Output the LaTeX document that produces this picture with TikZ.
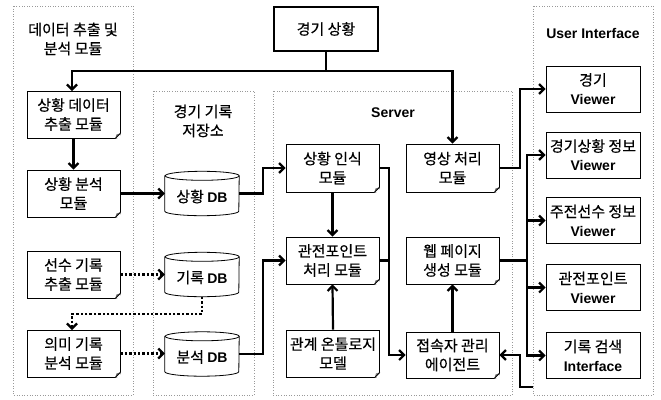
\documentclass[tikz,border=0pt]{standalone}
\usepackage{fontspec}
\setmainfont{Noto Sans CJK KR}[FakeBold=0.4]
\newfontfamily\lf{Liberation Sans}
\newcommand{\lb}[1]{{\lf\bfseries\fontsize{14}{19}\selectfont #1}}
\usetikzlibrary{arrows.meta,calc}
\tikzset{
  cont/.style={draw=gray!80, line width=0.6pt, dotted},
  boxn/.style={draw, line width=0.8pt, fill=white, align=center, minimum width=93pt, minimum height=47pt, inner sep=1pt, font=\fontsize{15}{19}\selectfont},
  dbn/.style={align=center, minimum width=74pt, minimum height=44pt, inner sep=1pt, font=\fontsize{15}{19}\selectfont},
  ttl/.style={align=center, font=\fontsize{15}{19}\selectfont},
  arr/.style={line width=2.2pt, -{Straight Barb[length=5pt,width=10pt,line width=2.2pt]}},
  ln/.style={line width=2.2pt},
  darr/.style={line width=2.4pt, dotted, -{Straight Barb[length=5pt,width=10pt,line width=2.2pt]}},
  dln/.style={line width=2.4pt, dotted},
}
\newcommand{\foldc}[1]{%
  \fill[white] ([xshift=-5pt]#1.south east) -- ([yshift=5pt]#1.south east) -- ([xshift=1pt,yshift=-1pt]#1.south east) -- cycle;
  \fill[gray] ([xshift=-5pt]#1.south east) -- ([yshift=5pt]#1.south east) -- ([xshift=-4pt,yshift=4pt]#1.south east) -- cycle;
  \draw[line width=0.8pt] ([xshift=-5pt]#1.south east) -- ([yshift=5pt]#1.south east);}
\newcommand{\cylc}[1]{%
  \draw[line width=0.8pt, fill=white] ([yshift=-4.5pt]#1.north west) -- ([yshift=4.5pt]#1.south west)
    arc[start angle=180,end angle=360,x radius=37pt,y radius=4.5pt]
    -- ([yshift=-4.5pt]#1.north east)
    arc[start angle=0,end angle=180,x radius=37pt,y radius=4.5pt] -- cycle;
  \draw[line width=0.8pt] ([yshift=-4.5pt]#1.north east) arc[start angle=0,end angle=-180,x radius=37pt,y radius=4.5pt];}
\begin{document}
\begin{tikzpicture}[x=1pt,y=-1pt]
\useasboundingbox (0,0) rectangle (661,399);
% containers
\draw[cont] (13,6) rectangle (133,395);
\draw[cont] (153,91) rectangle (254,395);
\draw[cont] (273,91) rectangle (512,395);
\draw[cont] (533,6) rectangle (653,395);
% container titles
\node[ttl] (t1) at (73,39) {데이터 추출 및\\분석 모듈};
\node[ttl] (t2) at (203,121) {경기 기록\\저장소};
\node[ttl] (t3) at (393,113) {\lb{Server}};
\node[ttl] (t4) at (593,33) {\lb{User Interface}};
% top box
\node[boxn, line width=2.2pt, minimum width=104pt, minimum height=44pt] (top) at (326,29) {경기 상황};
% left nodes
\node[boxn] (sd) at (73.5,114.5) {상황 데이터\\추출 모듈};
\node[boxn] (sa) at (73.5,193.5) {상황 분석\\모듈};
\node[boxn] (pr) at (73.5,274.5) {선수 기록\\추출 모듈};
\node[boxn] (mr) at (73.5,353.5) {의미 기록\\분석 모듈};
\foreach \n in {sd,sa,pr,mr} {\foldc{\n}}
% DBs
\node[dbn] (sdb) at (202,193.5) {};
\node[dbn] (rdb) at (202,274.5) {};
\node[dbn] (adb) at (202,354) {};
\foreach \n in {sdb,rdb,adb} {\cylc{\n}}
\node[ttl] (sdbt) at ([yshift=-3pt]sdb.center) {상황 \lb{DB}};
\node[ttl] (rdbt) at ([yshift=-3pt]rdb.center) {기록 \lb{DB}};
\node[ttl] (adbt) at ([yshift=-3pt]adb.center) {분석 \lb{DB}};
% server nodes
\node[boxn, minimum height=48pt] (sr) at (332.5,168) {상황 인식\\모듈};
\node[boxn] (gp) at (332.5,260.5) {관전포인트\\처리 모듈};
\node[boxn] (on) at (333,353.5) {관계 온톨로지\\모델};
\node[boxn, minimum height=48pt] (vp) at (452.5,168) {영상 처리\\모듈};
\node[boxn] (wp) at (452.5,260.5) {웹 페이지\\생성 모듈};
\node[boxn, minimum height=46pt] (ag) at (452.5,355) {접속자 관리\\에이전트};
\foreach \n in {sr,gp,on,vp,wp,ag} {\foldc{\n}}
% UI nodes
\tikzset{uin/.style={boxn, minimum width=94pt, minimum height=46pt}}
\node[uin] (v1) at (593,89) {경기\\\lb{Viewer}};
\node[uin] (v2) at (593,155) {경기상황 정보\\\lb{Viewer}};
\node[uin] (v3) at (593,220.5) {주전선수 정보\\\lb{Viewer}};
\node[uin] (v4) at (593,287.5) {관전포인트\\\lb{Viewer}};
\node[uin] (v5) at (593,355.5) {기록 검색\\\lb{Interface}};
% connectors
\coordinate (j) at (326,71);
\draw[ln] (top.south) -- (j);
\draw[arr] (j) -| (72,91);
\draw[arr] (j) -| (vp.north);
\draw[arr] (sd.south) -- (sa.north);
\draw[arr] (sa.east) -- (sa.east -| sdb.west);
\draw[darr] (pr.east) -- (pr.east -| rdb.west);
\draw[darr] (rdb.south) -- (202,314) -| (72,330);
\draw[darr] (mr.east) -- (mr.east -| adb.west);
\draw[arr] (sdb.east) -- (263,193.5) |- (sr.west);
\draw[arr] (adb.east) -- (263,354) |- (gp.west);
\draw[arr] (sr.south) -- (gp.north);
\draw[arr] (on.north) -- (gp.south);
\draw[arr] (sr.east) -- (389,168) |- (ag.west);
\draw[ln] (gp.east) -- (389,260.5);
\draw[arr] (ag.north) -- (wp.south);
\draw[arr] (vp.east) -- (520,168) |- (v1.west);
\coordinate (b) at (527,260.5);
\draw[ln] (wp.east) -- (b);
\draw[arr] (b) |- (v2.west);
\draw[arr] (b) |- (v3.west);
\draw[arr] (b) |- (v4.west);
\draw[arr] (b) |- (v5.west);
\coordinate (ret) at (533,387);
\draw[arr] (ret) -- (520,387) |- (ag.east);
\end{tikzpicture}
\end{document}
